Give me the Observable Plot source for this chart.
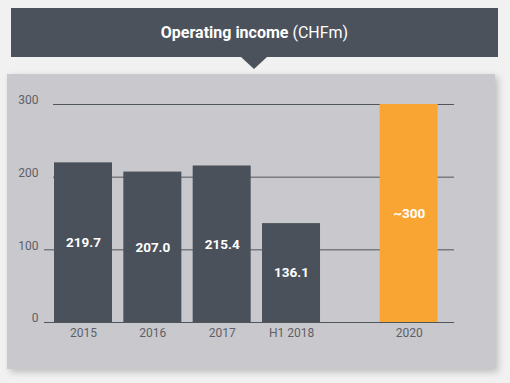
<!DOCTYPE html>
<html>
<head>
<meta charset="utf-8">
<script src="https://cdn.jsdelivr.net/npm/d3@7"></script>
<script src="https://cdn.jsdelivr.net/npm/@observablehq/plot@0.6"></script>
<style>
  html, body { margin: 0; padding: 0; }
  body { width: 510px; height: 383px; background: #f1f1f1; position: relative; overflow: hidden; font-family: Roboto, "Noto Sans", sans-serif; }
  #banner { position: absolute; left: 11px; top: 8px; width: 487px; height: 49px; background: #4b525b; color: #fff; font-size: 16px; line-height: 50px; text-align: center; }
  #banner b { font-weight: 700; }
  #pointer { position: absolute; left: 241px; top: 57px; width: 0; height: 0; border-left: 13px solid transparent; border-right: 13px solid transparent; border-top: 12px solid #4b525b; }
  #panel { position: absolute; left: 7px; top: 74px; width: 488px; height: 295px; background: #c9c8cc; box-shadow: 3px 3px 7px rgba(0,0,0,0.22); }
  #panel svg { position: absolute; left: 0; top: 0; }
</style>
</head>
<body>
<div id="banner"><b>Operating income</b> (CHFm)</div>
<div id="pointer"></div>
<div id="panel"></div>
<script>
// Data
const categories = ["2015", "2016", "2017", "H1 2018", "2020"];
const values = [219.7, 207.0, 215.4, 136.1, 300];
const valueLabels = ["219.7", "207.0", "215.4", "136.1", "~300"];
const kinds = ["actual", "actual", "actual", "actual", "target"];
const yTicks = [0, 100, 200, 300];

const rows = categories.map((c, i) => ({ category: c, value: values[i], label: valueLabels[i], kind: kinds[i] }));
const actual = rows.filter(d => d.kind === "actual");
const target = rows.filter(d => d.kind === "target");
const gap = "\u2009"; // spacer slot between actuals and target
const xDomain = [...actual.map(d => d.category), gap, ...target.map(d => d.category)];

const shift = -21;
const lineColor = "#50565d";
const textColor = "#5c6169";

const chart = Plot.plot({
  width: 488,
  height: 295,
  marginLeft: 46,
  marginRight: 41,
  marginTop: 30,
  marginBottom: 47,
  style: { background: "transparent", fontFamily: "Roboto, 'Noto Sans', sans-serif" },
  x: { type: "band", domain: xDomain, range: [47, 451.7], paddingInner: 0.1635, paddingOuter: 0, round: false, axis: null, label: null },
  y: { domain: [0, 300], axis: null, label: null },
  marks: [
    Plot.ruleY(yTicks, { stroke: lineColor, strokeWidth: 1 }),
    Plot.axisY([0, 100], { tickSize: 9, stroke: lineColor, text: null, label: null }),
    Plot.axisY(yTicks, { tickSize: 0, tickPadding: 15, dy: -4, fontSize: 12, fill: textColor, tickFormat: d => String(d), label: null }),
    Plot.barY(actual, { x: "category", y: "value", fill: "#4a515a" }),
    Plot.barY(target, { x: "category", y: "value", fill: "#f9a534", dx: shift }),
    Plot.text(actual, { x: "category", y: d => d.value / 2, text: "label", fill: "#fff", fontWeight: "bold", fontSize: 13.5 }),
    Plot.text(target, { x: "category", y: d => d.value / 2, text: "label", fill: "#fff", fontWeight: "bold", fontSize: 13.5, dx: shift }),
    Plot.axisX(actual.map(d => d.category), { tickSize: 0, tickPadding: 6, fontSize: 12, fill: textColor, label: null }),
    Plot.axisX(target.map(d => d.category), { tickSize: 0, tickPadding: 6, fontSize: 12, fill: textColor, dx: shift, label: null })
  ]
});
document.getElementById("panel").appendChild(chart);
</script>
</body>
</html>
